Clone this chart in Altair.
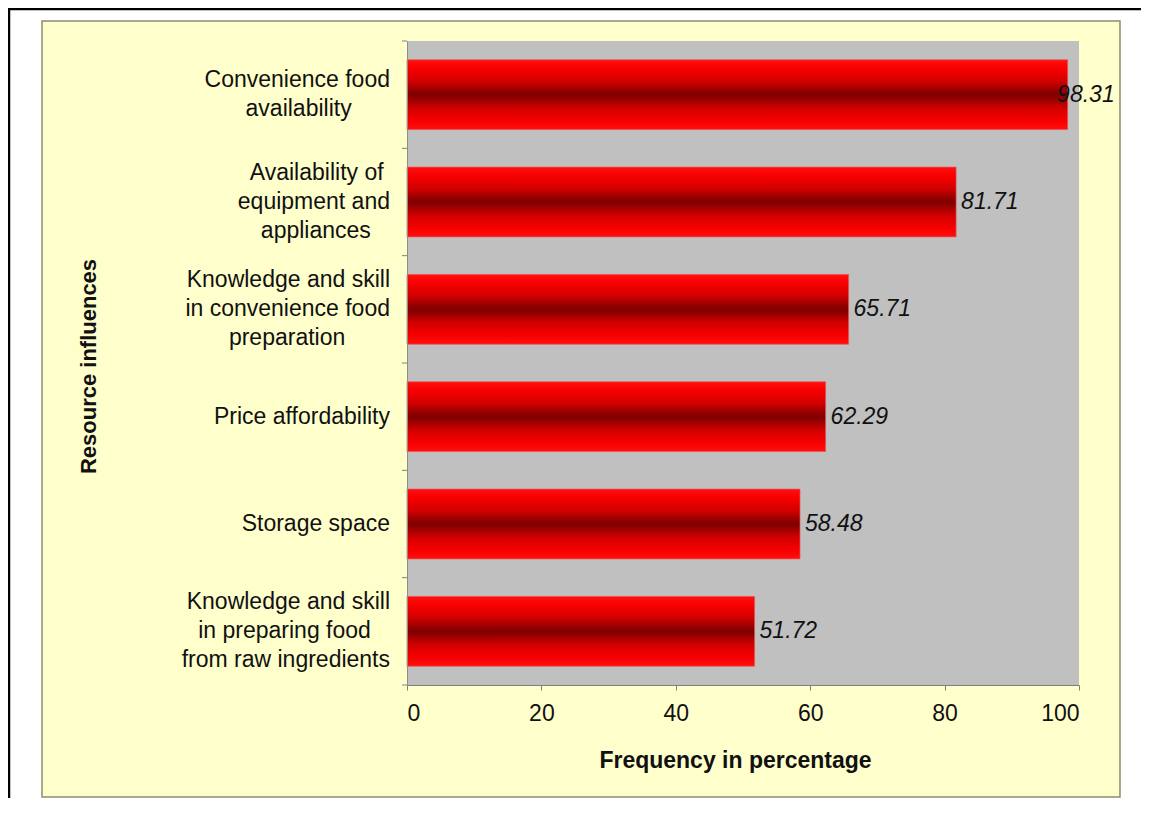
import altair as alt
import pandas as pd

categories = [
    "Convenience food availability",
    "Availability of equipment and appliances",
    "Knowledge and skill in convenience food preparation",
    "Price affordability",
    "Storage space",
    "Knowledge and skill in preparing food from raw ingredients",
]
label_lines = [
    ["Convenience food", "availability"],
    ["Availability of", "equipment and", "appliances"],
    ["Knowledge and skill", "in convenience food", "preparation"],
    ["Price affordability"],
    ["Storage space"],
    ["Knowledge and skill", "in preparing food", "from raw ingredients"],
]
values = [98.31, 81.71, 65.71, 62.29, 58.48, 51.72]
x_ticks = [0, 20, 40, 60, 80, 100]

FONT = "Liberation Sans"
W, H = 672, 644
LH = 29  # line height of the category labels
PAD_IN, PAD_OUT = 0.35, 0.175
STEP = H / len(categories)
BW = (1 - PAD_IN) * STEP     # bar thickness
HALF_GAP = PAD_OUT * STEP    # distance from bar edge to category boundary

# --- approximate Arial advance widths (per 1000 em) to centre lines inside a right-aligned block
_w = {" ": 278, "a": 556, "b": 556, "c": 500, "d": 556, "e": 556, "f": 278, "g": 556, "h": 556,
      "i": 222, "j": 222, "k": 500, "l": 222, "m": 833, "n": 556, "o": 556, "p": 556, "q": 556,
      "r": 333, "s": 500, "t": 278, "u": 556, "v": 500, "w": 722, "x": 500, "y": 500, "z": 500,
      "A": 667, "C": 722, "K": 667, "P": 667, "S": 667}
NBSP = "\u00a0"
ZW = "\u200b"  # zero-width end marker so the centring padding is not trimmed


def tw(s):
    return sum(_w.get(ch, 556) for ch in s)


def centred(lines):
    m = max(tw(l) for l in lines)
    out = []
    for l in lines:
        n = int(round((m - tw(l)) / 2 / 278))
        out.append(l + (NBSP * n + ZW if n else ""))
    return "\n".join(out)


df = pd.DataFrame({
    "category": categories,
    "value": values,
    "label": [centred(l) for l in label_lines],
    "nlines": [len(l) for l in label_lines],
})
one = pd.DataFrame({"k": [0]})

# --- decorative frame (outer border, yellow chart area, grey plot area)
outer = alt.Chart(one).mark_rect(fill="white", stroke="black", strokeWidth=2.5).encode(
    x=alt.value(-398), x2=alt.value(900), y=alt.value(-32), y2=alt.value(900)
)
panel = alt.Chart(one).mark_rect(fill="#FFFFCC", stroke="#8C8C70", strokeWidth=1.5).encode(
    x=alt.value(-365), x2=alt.value(713), y=alt.value(-20), y2=alt.value(756)
)
plotbg = alt.Chart(one).mark_rect(fill="#C0C0C0").encode(
    x=alt.value(0), x2=alt.value(W), y=alt.value(0), y2=alt.value(H)
)

grad = alt.Gradient(
    gradient="linear",
    stops=[
        alt.GradientStop(color="#FF1010", offset=0),
        alt.GradientStop(color="#F80000", offset=0.12),
        alt.GradientStop(color="#D40000", offset=0.3),
        alt.GradientStop(color="#7C0000", offset=0.5),
        alt.GradientStop(color="#D40000", offset=0.7),
        alt.GradientStop(color="#F80000", offset=0.88),
        alt.GradientStop(color="#FF1010", offset=1),
    ],
    x1=0, x2=0, y1=0, y2=1,
)

yscale = alt.Scale(paddingInner=PAD_IN, paddingOuter=PAD_OUT)

y_enc = alt.Y(
    "category:N",
    sort=categories,
    scale=yscale,
    axis=alt.Axis(
        title="Resource influences",
        titleFont=FONT, titleFontSize=22, titleFontWeight="bold", titleColor="#111111",
        titleX=-319, titleY=325, titleAngle=-90, titleAlign="center", titleBaseline="middle",
        labels=False, ticks=False, tickSize=0,
        domainColor="#8C8C8C", zindex=1,
    ),
)

x_enc = alt.X(
    "value:Q",
    scale=alt.Scale(domain=[0, 100], nice=False),
    axis=alt.Axis(
        values=x_ticks,
        title="Frequency in percentage",
        titleFont=FONT, titleFontSize=23, titleFontWeight="bold", titleColor="#111111",
        titleX=328, titleY=75, titleBaseline="middle",
        labelFont=FONT, labelFontSize=23, labelColor="#111111", labelPadding=12,
        tickSize=5, tickColor="#808080", domainColor="#808080", grid=False, zindex=1,
    ),
)

bars = alt.Chart(df).mark_bar(color=grad, stroke="#F05050", strokeWidth=1, strokeOpacity=0.7).encode(
    x=x_enc, y=y_enc
)

# category tick marks at the boundaries between categories (offsets from band start)
ticks_below = alt.Chart(df).mark_rule(color="#808080", strokeWidth=1).encode(
    y=alt.Y("category:N", sort=categories),
    yOffset=alt.value(BW + HALF_GAP),
    x=alt.value(-5), x2=alt.value(0),
)
tick_top = alt.Chart(df).transform_filter(
    alt.datum.category == categories[0]
).mark_rule(color="#808080", strokeWidth=1).encode(
    y=alt.Y("category:N", sort=categories),
    yOffset=alt.value(-HALF_GAP),
    x=alt.value(-5), x2=alt.value(0),
)

# category labels: multi-line blocks, vertically centred on each band
cat_label_layers = []
for n in (1, 2, 3):
    cat_label_layers.append(
        alt.Chart(df).transform_filter(alt.datum.nlines == n).transform_calculate(
            lines="split(datum.label, '\\n')"
        ).mark_text(
            align="right", baseline="middle", font=FONT, fontSize=23, color="#111111",
            lineHeight=LH,
        ).encode(
            y=alt.Y("category:N", sort=categories),
            yOffset=alt.value(BW / 2 - (n - 1) * LH / 2),
            x=alt.value(-17),
            text=alt.Text("lines:N"),
        )
    )

labels = alt.Chart(df).transform_calculate(
    lx="min(datum.value, 96.0)"
).mark_text(
    align="left", baseline="middle", dx=5, font=FONT, fontSize=23,
    fontStyle="italic", color="#111111",
).encode(
    x=alt.X("lx:Q"),
    y=alt.Y("category:N", sort=categories),
    text=alt.Text("value:Q", format=".2f"),
)

chart = alt.layer(outer, panel, plotbg, bars, ticks_below, tick_top, *cat_label_layers, labels).properties(
    width=W, height=H,
    autosize=alt.AutoSizeParams(type="none"),
    padding={"left": 399, "top": 33, "right": 62, "bottom": 113},
    background="white",
).configure_view(stroke=None)

chart.save("out.html", embed_options={"renderer": "svg", "actions": False})
